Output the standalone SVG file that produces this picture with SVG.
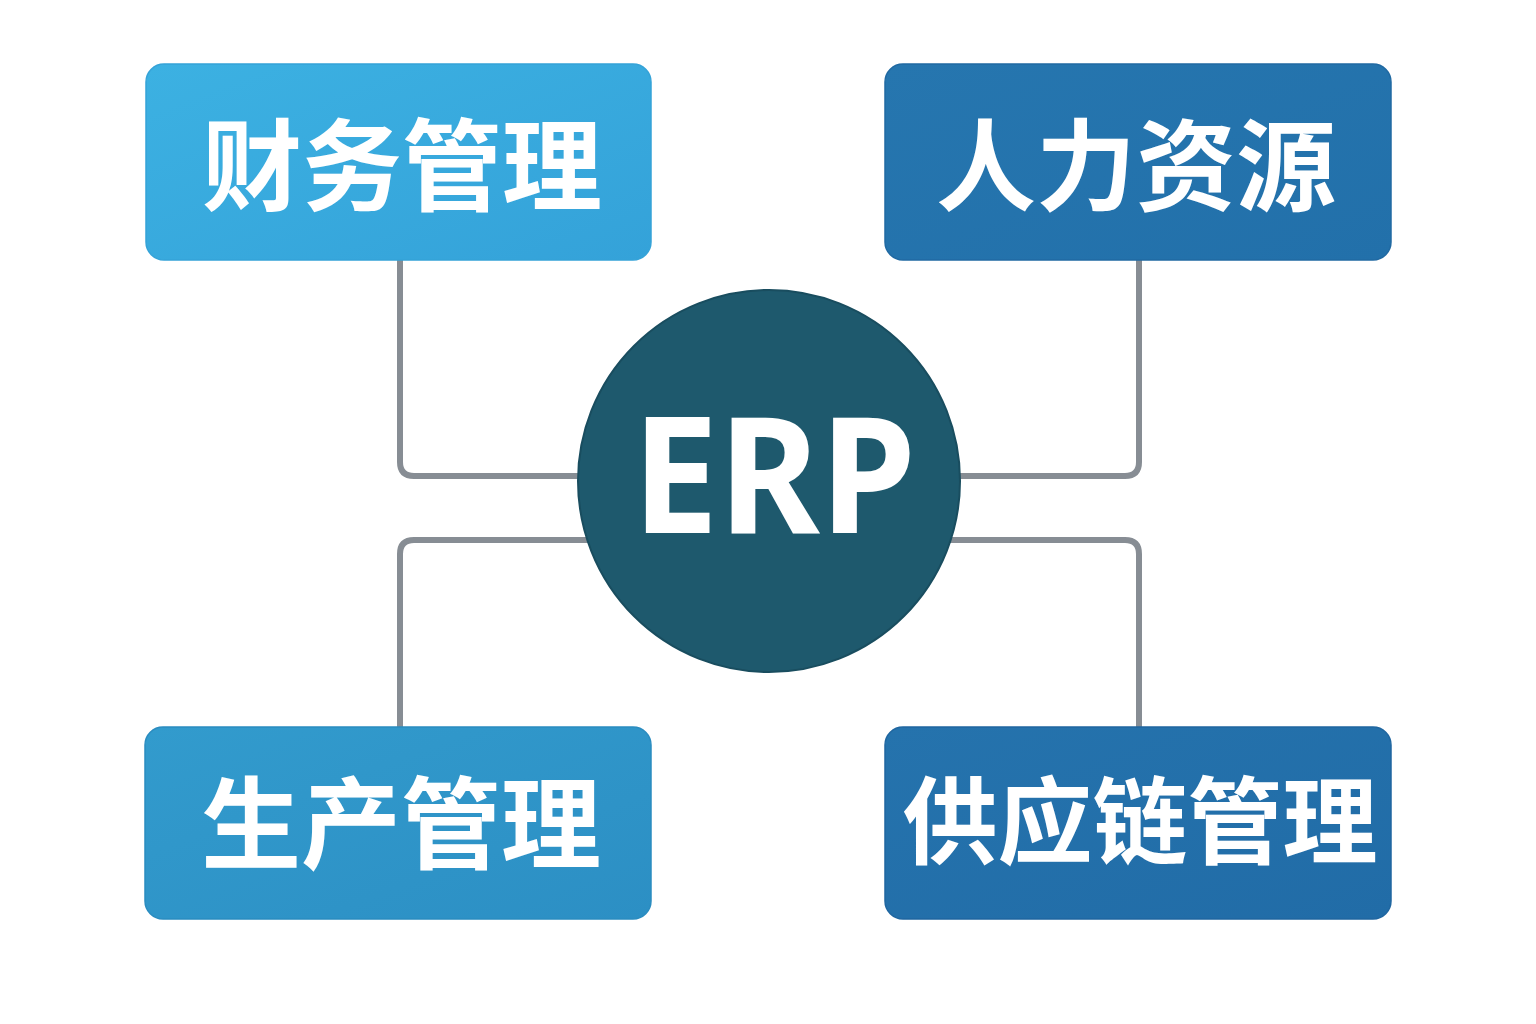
<svg xmlns="http://www.w3.org/2000/svg" width="1536" height="1024" viewBox="0 0 1536 1024">
  <defs>
    <linearGradient id="gTL" x1="0" y1="0" x2="1" y2="1">
      <stop offset="0" stop-color="#3cb1e2"/>
      <stop offset="1" stop-color="#34a2d9"/>
    </linearGradient>
    <linearGradient id="gBL" x1="0" y1="0" x2="1" y2="1">
      <stop offset="0" stop-color="#329bcd"/>
      <stop offset="1" stop-color="#2c8fc4"/>
    </linearGradient>
    <linearGradient id="gTR" x1="0" y1="0" x2="1" y2="1">
      <stop offset="0" stop-color="#2676af"/>
      <stop offset="1" stop-color="#2270aa"/>
    </linearGradient>
    <linearGradient id="gBR" x1="0" y1="0" x2="1" y2="1">
      <stop offset="0" stop-color="#2573ad"/>
      <stop offset="1" stop-color="#216ca7"/>
    </linearGradient>
  </defs>
  <style>
    .box { stroke-width: 1.5; }
    .label { font-family: "Noto Sans CJK SC", "Noto Sans", sans-serif; font-weight: 700; fill: #ffffff; text-anchor: middle; dominant-baseline: central; }
    .conn { fill: none; stroke: #878d94; stroke-width: 6; stroke-linejoin: round; }
  </style>
  <rect width="1536" height="1024" fill="#ffffff"/>

  <g id="connectors">
    <path class="conn" d="M400,258 V462 Q400,476 414,476 H700"/>
    <path class="conn" d="M1139,258 V462 Q1139,476 1125,476 H840"/>
    <path class="conn" d="M400,729 V554 Q400,540 414,540 H700"/>
    <path class="conn" d="M1139,729 V554 Q1139,540 1125,540 H840"/>
  </g>

  <g id="node-finance">
    <rect class="box" x="146" y="64" width="505" height="196" rx="18" fill="url(#gTL)" stroke="#35a3d8"/>
    <text class="label" x="402" y="159" font-size="100">财务管理</text>
  </g>
  <g id="node-hr">
    <rect class="box" x="885" y="64" width="506" height="196" rx="18" fill="url(#gTR)" stroke="#2069a2"/>
    <text class="label" x="1136" y="159" font-size="100">人力资源</text>
  </g>
  <g id="node-production">
    <rect class="box" x="145" y="727" width="506" height="192" rx="18" fill="url(#gBL)" stroke="#2a8cc0"/>
    <text class="label" x="401" y="817" font-size="100">生产管理</text>
  </g>
  <g id="node-supply">
    <rect class="box" x="885" y="727" width="506" height="192" rx="18" fill="url(#gBR)" stroke="#1f66a0"/>
    <text class="label" x="1140" y="815" font-size="95">供应链管理</text>
  </g>

  <g id="node-erp">
    <circle cx="769" cy="481" r="191" fill="#1e596d" stroke="#194d5f" stroke-width="2"/>
    <text x="774" y="533" font-family="'Noto Sans', 'Open Sans', sans-serif" font-weight="700" font-size="162" fill="#ffffff" text-anchor="middle" textLength="284" lengthAdjust="spacingAndGlyphs">ERP</text>
  </g>
</svg>
